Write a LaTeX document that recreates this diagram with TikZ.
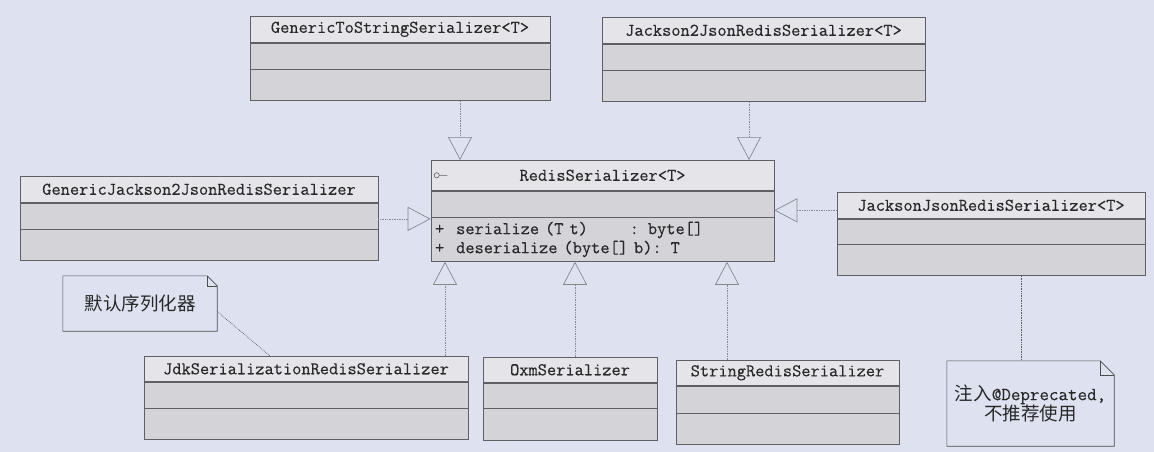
\documentclass[tikz,border=0pt]{standalone}
\usepackage{fontspec}
\setmonofont[FakeBold=0.3]{Latin Modern Mono}
\newfontfamily\cjk{Noto Sans CJK SC}
\usepackage{xcolor}
\definecolor{bgcol}{RGB}{222,226,240}
\definecolor{headfill}{RGB}{229,229,233}
\definecolor{bodyfill}{RGB}{211,211,216}
\definecolor{linecol}{RGB}{95,95,102}
\definecolor{dotcol}{RGB}{135,135,142}
\definecolor{txtcol}{RGB}{40,40,40}
\usepackage{tikz}
\usetikzlibrary{arrows.meta,positioning}
\newcommand{\umlfont}{\fontsize{17.9}{19}\selectfont\ttfamily}

\begin{document}
\begin{tikzpicture}[
  x=1pt, y=-1pt,
  clshead/.style={draw=linecol, fill=headfill, line width=0.6pt, inner sep=0pt, anchor=north, minimum height=26pt, font=\umlfont, text=txtcol},
  clsattr/.style={draw=linecol, fill=bodyfill, line width=0.6pt, inner sep=0pt, minimum height=26pt},
  clsops/.style={draw=linecol, fill=bodyfill, line width=0.6pt, inner sep=0pt, minimum height=31pt},
  realize/.style={-{Triangle[open, length=23pt, width=24pt]}, draw=dotcol, densely dotted, line width=0.7pt},
  notebox/.style={inner sep=2pt, align=center, text=txtcol, font={\fontsize{18.5}{18}\selectfont\cjk}},
  noteline/.style={draw=black!65, densely dotted, line width=0.7pt}
]

\fill[bgcol] (0,0) rectangle (1154,452);
\useasboundingbox (0,0) rectangle (1154,452);

% Interface
\node[clshead, minimum width=343pt, minimum height=30pt] (rs-h) at (602.5,160) {RedisSerializer<T>};
\node[clsattr, minimum width=343pt, below=0pt of rs-h] (rs-a) {};
\node[clsops, minimum width=343pt, minimum height=44pt, below=0pt of rs-a, text width=335pt, inner xsep=4pt, align=left, font=\umlfont, text=txtcol] (rs-o)
  {+~~serialize (T t)~~~~~~~: byte[]\\+~~deserialize (byte[] b): T};
\draw[linecol, line width=0.6pt] ([xshift=6pt]rs-h.west) circle (2.6pt) ++(2.6pt,0) -- ++(8pt,0);

% Top row
\node[clshead, minimum width=300pt] (gts-h) at (400,16) {GenericToStringSerializer<T>};
\node[clsattr, minimum width=300pt, below=0pt of gts-h] (gts-a) {};
\node[clsops, minimum width=300pt, below=0pt of gts-a] (gts-o) {};

\node[clshead, minimum width=323pt] (j2j-h) at (763.5,17) {Jackson2JsonRedisSerializer<T>};
\node[clsattr, minimum width=323pt, below=0pt of j2j-h] (j2j-a) {};
\node[clsops, minimum width=323pt, below=0pt of j2j-a] (j2j-o) {};

% Middle row
\node[clshead, minimum width=358pt] (gj-h) at (199,176) {GenericJackson2JsonRedisSerializer};
\node[clsattr, minimum width=358pt, below=0pt of gj-h] (gj-a) {};
\node[clsops, minimum width=358pt, below=0pt of gj-a] (gj-o) {};

\node[clshead, minimum width=308pt] (jj-h) at (991,192) {JacksonJsonRedisSerializer<T>};
\node[clsattr, minimum width=308pt, minimum height=25pt, below=0pt of jj-h] (jj-a) {};
\node[clsops, minimum width=308pt, below=0pt of jj-a] (jj-o) {};

% Bottom row
\node[clshead, minimum width=324pt, minimum height=25pt] (jdk-h) at (306,356) {JdkSerializationRedisSerializer};
\node[clsattr, minimum width=324pt, below=0pt of jdk-h] (jdk-a) {};
\node[clsops, minimum width=324pt, below=0pt of jdk-a] (jdk-o) {};

\node[clshead, minimum width=174pt, minimum height=25pt] (oxm-h) at (570,357) {OxmSerializer};
\node[clsattr, minimum width=174pt, minimum height=25pt, below=0pt of oxm-h] (oxm-a) {};
\node[clsops, minimum width=174pt, minimum height=32pt, below=0pt of oxm-a] (oxm-o) {};

\node[clshead, minimum width=223pt, minimum height=25pt] (srs-h) at (787.5,360) {StringRedisSerializer};
\node[clsattr, minimum width=223pt, minimum height=27pt, below=0pt of srs-h] (srs-a) {};
\node[clsops, minimum width=223pt, below=0pt of srs-a] (srs-o) {};

% Notes
\node[notebox, minimum width=154pt, minimum height=55pt] (nd) at (140,303.5) {默认序列化器};
\node[notebox, minimum width=167pt, minimum height=85pt] (nj) at (1030.5,403.5)
  {注入{\ttfamily @Deprecated,}\\不推荐使用};
\foreach \n/\c in {nd/10pt, nj/14pt} {
  \draw[black!70, line width=0.6pt] (\n.north west) -- ([xshift=-\c]\n.north east)
    -- ([yshift=-\c]\n.north east) -- (\n.south east) -- (\n.south west) -- cycle;
  \draw[black!70, line width=0.6pt] ([xshift=-\c]\n.north east) |- ([yshift=-\c]\n.north east);
}

% Realizations
\draw[realize] ([xshift=60pt]gts-o.south) -- ([xshift=60pt]gts-o.south |- rs-h.north);
\draw[realize] ([xshift=-14.5pt]j2j-o.south) -- ([xshift=-14.5pt]j2j-o.south |- rs-h.north);
\draw[realize] ([yshift=-3pt]gj-a.east) -- ([yshift=-3pt]gj-a.east -| rs-a.west);
\draw[realize] ([yshift=-5pt]jj-h.west) -- ([yshift=-5pt]jj-h.west -| rs-h.east);
\draw[realize] ([xshift=139pt]jdk-h.north) -- ([xshift=139pt]jdk-h.north |- rs-o.south);
\draw[realize] ([xshift=5pt]oxm-h.north) -- ([xshift=5pt]oxm-h.north |- rs-o.south);
\draw[realize] ([xshift=-60.5pt]srs-h.north) -- ([xshift=-60.5pt]srs-h.north |- rs-o.south);

% Note links
\draw[noteline] ([yshift=-8pt]nd.east) -- ([xshift=-36pt]jdk-h.north);
\draw[noteline] ([xshift=30pt]jj-o.south) -- ([xshift=30pt]jj-o.south |- nj.north);

\end{tikzpicture}
\end{document}
